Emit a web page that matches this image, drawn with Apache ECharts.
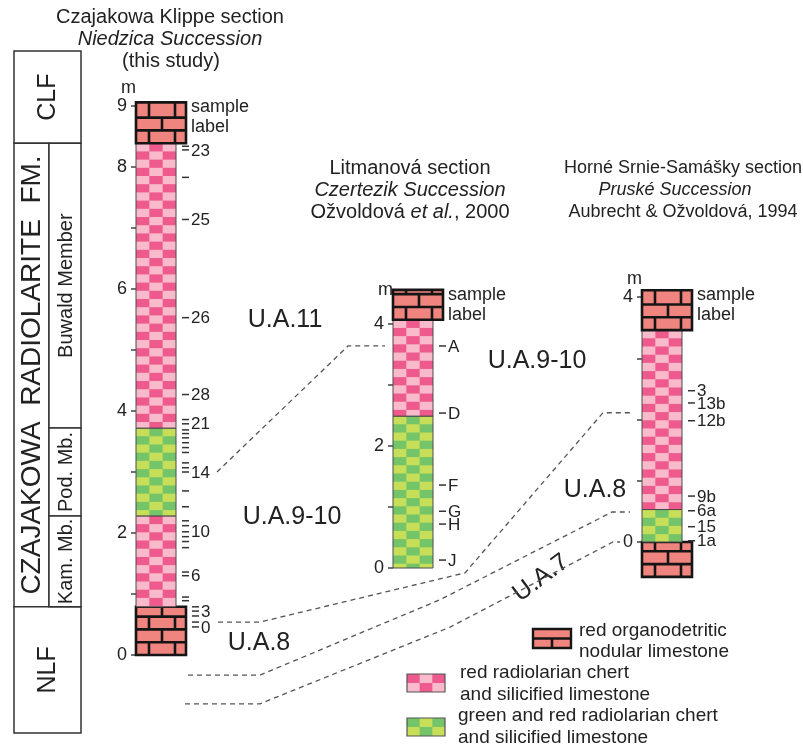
<!DOCTYPE html>
<html>
<head>
<meta charset="utf-8">
<script src="https://cdn.jsdelivr.net/npm/echarts@6/dist/echarts.min.js"></script>
<style>
  html, body { margin: 0; padding: 0; background: #ffffff; }
  #chart { width: 803px; height: 752px; }
</style>
</head>
<body>
<div id="chart"></div>
<script>
const FONT = '"Liberation Sans", Arial, Helvetica, sans-serif';
const INK = '#222222';

// Lithology codes
const LIMESTONE = 0, RED_CHERT = 1, GREEN_CHERT = 2;

// ---- Czajakowa Klippe section (metres) ----
const czajBottoms = [0, 0.79, 2.28, 3.72, 8.39];
const czajTops    = [0.79, 2.28, 3.72, 8.39, 9.06];
const czajLitho   = [LIMESTONE, RED_CHERT, GREEN_CHERT, RED_CHERT, LIMESTONE];
const czajSampleLevels = [8.34, 8.28, 7.83, 7.14, 5.53, 4.27, 3.86, 3.79, 3.69, 3.63, 3.56, 3.48,
  3.40, 3.32, 3.15, 3.07, 3.00, 2.69, 2.43, 2.20, 2.12, 2.02, 1.94, 1.86, 1.76, 1.36, 1.30,
  0.95, 0.89, 0.79, 0.72, 0.64, 0.54, 0.46];
const czajSampleLabels = ['', '23', '', '25', '26', '28', '', '21', '', '', '', '',
  '', '', '', '', '14', '', '', '', '', '10', '', '', '', '', '6',
  '', '', '', '3', '', '', '0'];

// ---- Litmanová section ----
const litBottoms = [0, 2.49, 4.07];
const litTops    = [2.49, 4.07, 4.56];
const litLitho   = [GREEN_CHERT, RED_CHERT, LIMESTONE];
const litSampleLevels = [3.64, 2.54, 1.36, 0.93, 0.72, 0.13];
const litSampleLabels = ['A', 'D', 'F', 'G', 'H', 'J'];

// ---- Horné Srnie-Samášky section ----
const hsBottoms = [-0.57, 0, 0.53, 3.46];
const hsTops    = [0, 0.53, 3.46, 4.11];
const hsLitho   = [LIMESTONE, GREEN_CHERT, RED_CHERT, LIMESTONE];
const hsSampleLevels = [2.47, 2.27, 1.98, 0.75, 0.51, 0.25, 0.02];
const hsSampleLabels = ['3', '13b', '12b', '9b', '6a', '15', '1a'];

// ---- Lithostratigraphic units beside the Czajakowa column ----
const unitNames   = ['CLF', 'CZAJAKOWA  RADIOLARITE  FM.', 'NLF', 'Buwald Member', 'Pod. Mb.', 'Kam. Mb.'];
const unitBottoms = [8.39, 0.79, -1.28, 3.72, 2.28, 0.79];
const unitTops    = [9.90, 8.39, 0.79, 8.39, 3.72, 2.28];
const unitRank    = [0, 1, 0, 2, 2, 2];   // 0 = whole width, 1 = formation strip, 2 = member strip

// Axis tick labels
const czajAxisLabels = ['0', '2', '4', '6', '8', '9'];
const litAxisLabels  = ['0', '2', '4'];
const hsAxisLabels   = ['0', '4'];

const PINK_DARK = '#EE5A8D', PINK_LIGHT = '#F9BBCB';
const GREEN_DARK = '#74C46A', GREEN_LIGHT = '#C6DE58';
const BRICK = '#F0857F', MORTAR = '#151515';

function zip(a, b, c) { return a.map((v, i) => [v, b[i], c[i]]); }
const czajLayers = zip(czajBottoms, czajTops, czajLitho);
const litLayers  = zip(litBottoms, litTops, litLitho);
const hsLayers   = zip(hsBottoms, hsTops, hsLitho);

function checkerShapes(x, y, w, h, dark, light) {
  const out = [{ type: 'rect', shape: { x, y, width: w, height: h }, style: { fill: light } }];
  const cw = w / 3, ch = 8.2;
  let r = 0;
  for (let yy = y; yy < y + h - 0.5; yy += ch, r++) {
    const hh = Math.min(ch, y + h - yy);
    for (let c = 0; c < 3; c++) {
      if ((r + c) % 2 === 1) {
        out.push({ type: 'rect', shape: { x: x + c * cw, y: yy, width: cw, height: hh }, style: { fill: dark } });
      }
    }
  }
  out.push({ type: 'rect', shape: { x, y, width: w, height: h }, style: { fill: null, stroke: '#4a4a4a', lineWidth: 1 } });
  return out;
}

function brickShapes(x, y, w, h) {
  const out = [{ type: 'rect', shape: { x, y, width: w, height: h }, style: { fill: BRICK } }];
  const rowH = 12.8, sx = w / 50;
  const mortar = { stroke: MORTAR, lineWidth: 2.6 };
  let i = 0, bottom = y + h;
  while (bottom > y + 0.5) {
    let top = bottom - rowH;
    if (top - y < 4) top = y;
    if (top > y) out.push({ type: 'line', shape: { x1: x, y1: top, x2: x + w, y2: top }, style: mortar });
    const joints = i % 2 === 0 ? [13, 39] : [26];
    joints.forEach(j => out.push({ type: 'line', shape: { x1: x + j * sx, y1: top, x2: x + j * sx, y2: bottom }, style: mortar }));
    bottom = top; i++;
  }
  out.push({ type: 'rect', shape: { x, y, width: w, height: h }, style: { fill: null, stroke: MORTAR, lineWidth: 2.6 } });
  return out;
}

function lithoRenderer(count) {
  return function (params, api) {
    const b = api.value(0), t = api.value(1), k = api.value(2);
    const frac = k === LIMESTONE ? 1 : 0.8;
    const p0 = api.coord([0, t]);
    const p1 = api.coord([frac, b]);
    const x = p0[0], y = p0[1], w = p1[0] - p0[0], h = p1[1] - p0[1];
    let children;
    if (k === LIMESTONE) children = brickShapes(x, y, w, h);
    else if (k === RED_CHERT) children = checkerShapes(x, y, w, h, PINK_DARK, PINK_LIGHT);
    else children = checkerShapes(x, y, w, h, GREEN_DARK, GREEN_LIGHT);
    if (params.dataIndex === count - 1) {
      children.push({ type: 'text', x: x + w + 5, y: y - 5,
        style: { text: 'sample\nlabel', font: '18px ' + FONT, fill: INK, lineHeight: 20, align: 'left', verticalAlign: 'top' } });
    }
    return { type: 'group', children };
  };
}

function sampleRenderer(layers, labels) {
  return function (params, api) {
    const m = api.value(0);
    const layer = layers.find(l => m >= l[0] - 1e-6 && m <= l[1] + 1e-6);
    const frac = layer && layer[2] === LIMESTONE ? 1 : 0.8;
    const p = api.coord([frac, m]);
    const children = [{ type: 'line', shape: { x1: p[0] + 6, y1: p[1], x2: p[0] + 13, y2: p[1] },
      style: { stroke: '#333', lineWidth: 1.5 } }];
    const label = labels[params.dataIndex];
    if (label) {
      children.push({ type: 'text', x: p[0] + 15, y: p[1] + 1,
        style: { text: label, font: '17px ' + FONT, fill: INK, align: 'left', verticalAlign: 'middle' } });
    }
    return { type: 'group', children };
  };
}

function unitRenderer(params, api) {
  const b = api.value(0), t = api.value(1), rank = api.value(2);
  const split = 0.522;
  const x0 = rank === 2 ? split : 0, x1 = rank === 1 ? split : 1;
  const p0 = api.coord([x0, t]), p1 = api.coord([x1, b]);
  const x = p0[0], y = p0[1], w = p1[0] - p0[0], h = p1[1] - p0[1];
  const size = rank === 2 ? 20 : (rank === 1 ? 28 : 25);
  return { type: 'group', children: [
    { type: 'rect', shape: { x, y, width: w, height: h }, style: { fill: '#fff', stroke: '#333', lineWidth: 1.5 } },
    { type: 'text', x: x + w / 2 + 1, y: y + h / 2, rotation: Math.PI / 2,
      style: { text: unitNames[params.dataIndex], font: size + 'px ' + FONT, fill: INK, align: 'center', verticalAlign: 'middle' } }
  ] };
}

function yAxisFor(gridIndex, max, shown, nameGap) {
  return {
    type: 'value', gridIndex, min: 0, max, interval: 1,
    name: 'm', nameLocation: 'end', nameGap,
    nameTextStyle: { color: INK, fontFamily: FONT, fontSize: 18, align: 'right', verticalAlign: 'middle' },
    axisLine: { show: false },
    axisTick: { show: true, inside: false, length: 5, lineStyle: { color: '#444', width: 1.5 } },
    axisLabel: { margin: 9, color: INK, fontFamily: FONT, fontSize: 18,
      formatter: v => shown.indexOf(String(v)) >= 0 ? String(v) : '' },
    splitLine: { show: false }
  };
}

const grids = [
  { left: 136, top: 106, width: 50, height: 549 },
  { left: 393, top: 324, width: 50, height: 244 },
  { left: 642, top: 297, width: 50, height: 245 },
  { left: 14,  top: 106, width: 67, height: 549 }
].map(g => Object.assign({ containLabel: false, outerBoundsMode: 'none' }, g));

const chart = echarts.init(document.getElementById('chart'), null, { renderer: 'canvas', width: 803, height: 752 });

chart.setOption({
  animation: false,
  backgroundColor: '#ffffff',
  grid: grids,
  xAxis: [0, 1, 2, 3].map(i => ({ type: 'value', gridIndex: i, min: 0, max: 1, show: false })),
  yAxis: [
    yAxisFor(0, 9, czajAxisLabels, 18),
    yAxisFor(1, 4, litAxisLabels, 34),
    yAxisFor(2, 4, hsAxisLabels, 17),
    { type: 'value', gridIndex: 3, min: 0, max: 9, show: false }
  ],
  series: [
    { type: 'custom', name: 'units', xAxisIndex: 3, yAxisIndex: 3, renderItem: unitRenderer,
      data: zip(unitBottoms, unitTops, unitRank), encode: { y: [0, 1] }, silent: true },
    { type: 'custom', name: 'Czajakowa', xAxisIndex: 0, yAxisIndex: 0, renderItem: lithoRenderer(czajLayers.length),
      data: czajLayers, encode: { y: [0, 1] }, silent: true },
    { type: 'custom', name: 'Litmanová', xAxisIndex: 1, yAxisIndex: 1, renderItem: lithoRenderer(litLayers.length),
      data: litLayers, encode: { y: [0, 1] }, silent: true },
    { type: 'custom', name: 'Horné Srnie-Samášky', xAxisIndex: 2, yAxisIndex: 2, renderItem: lithoRenderer(hsLayers.length),
      data: hsLayers, encode: { y: [0, 1] }, silent: true },
    { type: 'custom', name: 'Czajakowa samples', xAxisIndex: 0, yAxisIndex: 0,
      renderItem: sampleRenderer(czajLayers, czajSampleLabels), data: czajSampleLevels.map(v => [v]), encode: { y: 0 }, silent: true },
    { type: 'custom', name: 'Litmanová samples', xAxisIndex: 1, yAxisIndex: 1,
      renderItem: sampleRenderer(litLayers, litSampleLabels), data: litSampleLevels.map(v => [v]), encode: { y: 0 }, silent: true },
    { type: 'custom', name: 'Horné Srnie-Samášky samples', xAxisIndex: 2, yAxisIndex: 2,
      renderItem: sampleRenderer(hsLayers, hsSampleLabels), data: hsSampleLevels.map(v => [v]), encode: { y: 0 }, silent: true }
  ]
});

// Correlation lines between the sections: [section grid, offset from the section's left edge, level in metres]
const correlationPaths = [
  [[0, 81, 3.0], [1, -45, 3.64], [1, -8, 3.64]],
  [[0, 82, 0.54], [0, 124, 0.54], [1, 72, -0.08], [2, -39, 2.11], [2, -12, 2.11]],
  [[0, 52, -0.33], [0, 124, -0.33], [1, 47, -0.52], [2, -30, 0.49], [2, -12, 0.49]],
  [[0, 49, -0.80], [0, 124, -0.80], [1, 57, -0.97], [2, -29, 0], [2, -22, 0]]
];

function toPixel(v) {
  const p = chart.convertToPixel({ gridIndex: v[0] }, [0, v[2]]);
  return [p[0] + v[1], p[1]];
}

const txt = (x, y, text, size, extra) => ({
  type: 'text', x, y, silent: true,
  style: Object.assign({ text, font: size + 'px ' + FONT, fill: INK, align: 'center', verticalAlign: 'middle' }, extra || {})
});
const italic = (x, y, text, size) => txt(x, y, text, size, { font: 'italic ' + size + 'px ' + FONT });
const richTxt = (x, y, text, size) => ({
  type: 'text', x, y, silent: true,
  style: { text, font: size + 'px ' + FONT, fill: INK, align: 'center', verticalAlign: 'middle',
    rich: { i: { font: 'italic ' + size + 'px ' + FONT, fill: INK } } }
});

function swatchChecker(x, y, w, h, dark, light) {
  const cw = w / 3, ch = h / 2, kids = [{ type: 'rect', shape: { x, y, width: w, height: h }, style: { fill: light } }];
  for (let r = 0; r < 2; r++) for (let c = 0; c < 3; c++) {
    if ((r + c) % 2 === 0) kids.push({ type: 'rect', shape: { x: x + c * cw, y: y + r * ch, width: cw, height: ch }, style: { fill: dark } });
  }
  kids.push({ type: 'rect', shape: { x, y, width: w, height: h }, style: { fill: null, stroke: '#555', lineWidth: 1.2 } });
  return { type: 'group', silent: true, children: kids };
}

const mortar = { stroke: MORTAR, lineWidth: 2.6 };
const graphics = [
  // section headings
  txt(170, 17, 'Czajakowa Klippe section', 20),
  italic(170, 39, 'Niedzica Succession', 20),
  txt(171, 61, '(this study)', 20),
  txt(410, 168, 'Litmanová section', 20),
  italic(410, 190, 'Czertezik Succession', 20),
  richTxt(410, 212, 'Ožvoldová {i|et al.}, 2000', 20),
  txt(683, 168, 'Horné Srnie-Samášky section', 18),
  italic(675, 190, 'Pruské Succession', 18),
  txt(683, 212, 'Aubrecht & Ožvoldová, 1994', 18),
  // unitary associations
  txt(285, 320, 'U.A.11', 25),
  txt(292, 517, 'U.A.9-10', 25),
  txt(259, 643, 'U.A.8', 25),
  txt(537, 361, 'U.A.9-10', 25),
  txt(595, 490, 'U.A.8', 25),
  Object.assign(txt(541, 578, 'U.A.7', 25), { rotation: 0.64 }),
  // legend
  { type: 'group', silent: true, children: [
    { type: 'rect', shape: { x: 533, y: 629, width: 38, height: 19 }, style: { fill: BRICK, stroke: MORTAR, lineWidth: 2.4 } },
    { type: 'line', shape: { x1: 533, y1: 638.5, x2: 571, y2: 638.5 }, style: mortar },
    { type: 'line', shape: { x1: 552, y1: 638.5, x2: 552, y2: 648 }, style: mortar }
  ] },
  txt(579, 631, 'red organodetritic', 19, { align: 'left' }),
  txt(579, 652, 'nodular limestone', 19, { align: 'left' }),
  swatchChecker(407, 674, 38, 18, PINK_DARK, PINK_LIGHT),
  txt(460, 673, 'red radiolarian chert', 19, { align: 'left' }),
  txt(460, 695, 'and silicified limestone', 19, { align: 'left' }),
  swatchChecker(407, 718, 38, 18, GREEN_DARK, GREEN_LIGHT),
  txt(458, 716, 'green and red radiolarian chert', 19, { align: 'left' }),
  txt(458, 738, 'and silicified limestone', 19, { align: 'left' })
];

correlationPaths.forEach(path => {
  graphics.push({ type: 'polyline', silent: true, z: 5,
    shape: { points: path.map(toPixel) },
    style: { fill: null, stroke: '#555', lineWidth: 1.3, lineDash: [5, 4] } });
});

chart.setOption({ graphic: graphics });
</script>
</body>
</html>
